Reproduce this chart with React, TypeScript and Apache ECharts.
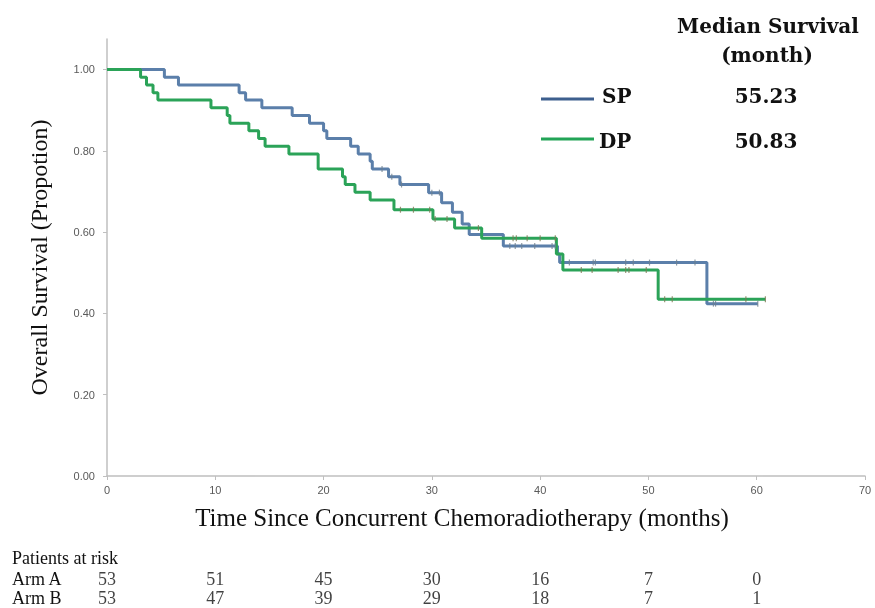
import React, { useEffect, useRef } from "react";
import * as echarts from "echarts";

// Kaplan-Meier step data (time in months, survival proportion after event)
const spTimes = [0, 5.3, 6.6, 12.2, 12.8, 14.3, 17.1, 18.7, 20.0, 20.3, 22.5, 23.2, 24.3, 24.5, 26.0, 27.05, 29.7, 30.9, 31.9, 32.8, 33.45, 36.6, 41.6, 41.8, 55.4, 60.1];
const spSurv = [1, 0.981, 0.962, 0.943, 0.925, 0.906, 0.887, 0.868, 0.849, 0.83, 0.811, 0.792, 0.774, 0.755, 0.736, 0.717, 0.697, 0.672, 0.649, 0.62, 0.594, 0.566, 0.546, 0.525, 0.424, 0.424];

const dpTimes = [0, 3.1, 3.65, 4.25, 4.7, 9.6, 11.1, 11.35, 13.1, 14.0, 14.6, 16.8, 19.5, 21.75, 22.0, 22.9, 24.3, 26.5, 30.1, 32.1, 34.6, 41.5, 42.1, 50.9, 60.8];
const dpSurv = [1, 0.981, 0.962, 0.943, 0.925, 0.906, 0.887, 0.868, 0.849, 0.83, 0.811, 0.792, 0.755, 0.736, 0.717, 0.698, 0.679, 0.655, 0.632, 0.61, 0.585, 0.546, 0.507, 0.435, 0.435];

// censoring marks (months)
const spCensor = [25.4, 26.3, 27.2, 30.0, 30.7, 37.2, 37.7, 38.3, 39.5, 41.1, 41.4, 42.7, 44.9, 45.1, 47.9, 48.6, 50.1, 52.6, 54.3, 56.0, 56.2, 60.1];
const dpCensor = [27.1, 28.3, 29.8, 30.3, 31.4, 34.3, 37.5, 37.8, 38.8, 40.0, 41.4, 43.8, 44.8, 47.2, 47.9, 48.2, 49.8, 51.5, 52.2, 59.0, 60.8];

// patients at risk
const riskTimes = [0, 10, 20, 30, 40, 50, 60];
const riskArmA = [53, 51, 45, 30, 16, 7, 0];
const riskArmB = [53, 47, 39, 29, 18, 7, 1];
const riskArms = ["Arm A", "Arm B"];

const yTicks = [0, 0.2, 0.4, 0.6, 0.8, 1.0];

const seriesNames = ["SP", "DP"];
const medians = ["55.23", "50.83"];

const BLUE = "#5B7FAA";
const GREEN = "#2BA358";
const AXIS = "#BFBFBF";

function survAt(times: number[], surv: number[], t: number) {
  let v = surv[0];
  for (let i = 0; i < times.length; i++) {
    if (times[i] <= t) v = surv[i];
  }
  return v;
}

export default function App() {
  const ref = useRef<HTMLDivElement>(null);
  useEffect(() => {
    const chart = echarts.init(ref.current!, null, { renderer: "svg" });
    const serif = "'Liberation Serif', 'Times New Roman', serif";
    const boldSerif = "'DejaVu Serif', serif";
    const riskData = [
      ...riskTimes.map((t, i) => [t, 0, riskArmA[i]]),
      ...riskTimes.map((t, i) => [t, 1, riskArmB[i]]),
    ];
    chart.setOption({
      animation: false,
      grid: [
        { left: 107, right: 10, top: 39, bottom: 132 },
        { left: 107, right: 10, top: 569, height: 39 },
      ],
      xAxis: [
        {
          type: "value",
          gridIndex: 0,
          min: 0,
          max: 70,
          interval: 10,
          axisLine: { show: true, lineStyle: { color: AXIS, width: 1.5 } },
          axisTick: { show: true, length: 4, lineStyle: { color: AXIS } },
          axisLabel: { color: "#595959", fontSize: 11, fontFamily: "'Liberation Sans', Arial, sans-serif", margin: 8 },
          splitLine: { show: false },
        },
        { type: "value", gridIndex: 1, min: 0, max: 70, show: false },
      ],
      yAxis: [
        {
          type: "value",
          gridIndex: 0,
          min: 0,
          max: 1.075,
          interval: 0.2,
          axisLine: { show: true, lineStyle: { color: AXIS, width: 1.5 } },
          axisTick: { show: true, length: 4, lineStyle: { color: AXIS }, customValues: yTicks },
          axisLabel: {
            color: "#595959",
            fontSize: 11,
            fontFamily: "'Liberation Sans', Arial, sans-serif",
            margin: 12,
            customValues: yTicks,
            formatter: (v: number) => (v > 1.0001 ? "" : v.toFixed(2)),
          },
          splitLine: { show: false },
          name: "Overall Survival (Propotion)",
          nameLocation: "middle",
          nameRotate: 90,
          nameGap: 56,
          nameTextStyle: { fontFamily: serif, fontSize: 24, color: "#111" },
        },
        {
          type: "category",
          gridIndex: 1,
          data: riskArms,
          inverse: true,
          axisLine: { show: false },
          axisTick: { show: false },
          splitLine: { show: false },
          axisLabel: { interval: 0, align: "left", margin: 95, fontFamily: serif, fontSize: 18, color: "#111" },
        },
      ],
      series: [
        {
          name: seriesNames[0],
          type: "line",
          step: "end",
          showSymbol: false,
          data: spTimes.map((t, i) => [t, spSurv[i]]),
          lineStyle: { color: BLUE, width: 3 },
          itemStyle: { color: BLUE },
          z: 2,
        },
        {
          name: seriesNames[1],
          type: "line",
          step: "end",
          showSymbol: false,
          data: dpTimes.map((t, i) => [t, dpSurv[i]]),
          lineStyle: { color: GREEN, width: 3 },
          itemStyle: { color: GREEN },
          z: 3,
        },
        {
          type: "scatter",
          symbol: "rect",
          symbolSize: [1.2, 6],
          data: spCensor.map((t) => [t, survAt(spTimes, spSurv, t)]),
          itemStyle: { color: "#6E7F8F" },
          z: 4,
        },
        {
          type: "scatter",
          symbol: "rect",
          symbolSize: [1.2, 6],
          data: dpCensor.map((t) => [t, survAt(dpTimes, dpSurv, t)]),
          itemStyle: { color: "#7C7A55" },
          z: 4,
        },
        {
          type: "scatter",
          xAxisIndex: 1,
          yAxisIndex: 1,
          symbolSize: 1,
          itemStyle: { color: "rgba(0,0,0,0)" },
          data: riskData,
          label: {
            show: true,
            position: "inside",
            formatter: (p: any) => String(p.value[2]),
            fontFamily: serif,
            fontSize: 18,
            color: "#111",
          },
        },
      ],
      graphic: [
        {
          type: "text",
          x: 462,
          y: 517,
          style: { text: "Time Since Concurrent Chemoradiotherapy (months)", font: `25px ${serif}`, fill: "#111", textAlign: "center", textVerticalAlign: "middle" },
        },
        {
          type: "text",
          x: 768,
          y: 26,
          style: { text: "Median Survival", font: `bold 20px ${boldSerif}`, fill: "#111", textAlign: "center", textVerticalAlign: "middle" },
        },
        {
          type: "text",
          x: 767,
          y: 55,
          style: { text: "(month)", font: `bold 20px ${boldSerif}`, fill: "#111", textAlign: "center", textVerticalAlign: "middle" },
        },
        { type: "line", shape: { x1: 541, y1: 99, x2: 594, y2: 99 }, style: { stroke: "#3D5F8E", lineWidth: 3 } },
        {
          type: "text",
          x: 602,
          y: 96,
          style: { text: seriesNames[0], font: `bold 20px ${boldSerif}`, fill: "#111", textAlign: "left", textVerticalAlign: "middle" },
        },
        {
          type: "text",
          x: 766,
          y: 96,
          style: { text: medians[0], font: `bold 20px ${boldSerif}`, fill: "#111", textAlign: "center", textVerticalAlign: "middle" },
        },
        { type: "line", shape: { x1: 541, y1: 139, x2: 594, y2: 139 }, style: { stroke: "#22A457", lineWidth: 3 } },
        {
          type: "text",
          x: 599,
          y: 141,
          style: { text: seriesNames[1], font: `bold 20px ${boldSerif}`, fill: "#111", textAlign: "left", textVerticalAlign: "middle" },
        },
        {
          type: "text",
          x: 766,
          y: 141,
          style: { text: medians[1], font: `bold 20px ${boldSerif}`, fill: "#111", textAlign: "center", textVerticalAlign: "middle" },
        },
        {
          type: "text",
          x: 12,
          y: 558,
          style: { text: "Patients at risk", font: `18px ${serif}`, fill: "#111", textAlign: "left", textVerticalAlign: "middle" },
        },
      ],
    });
    return () => chart.dispose();
  }, []);
  return <div ref={ref} style={{ position: "fixed", left: 0, top: 0, width: 875, height: 608 }} />;
}
